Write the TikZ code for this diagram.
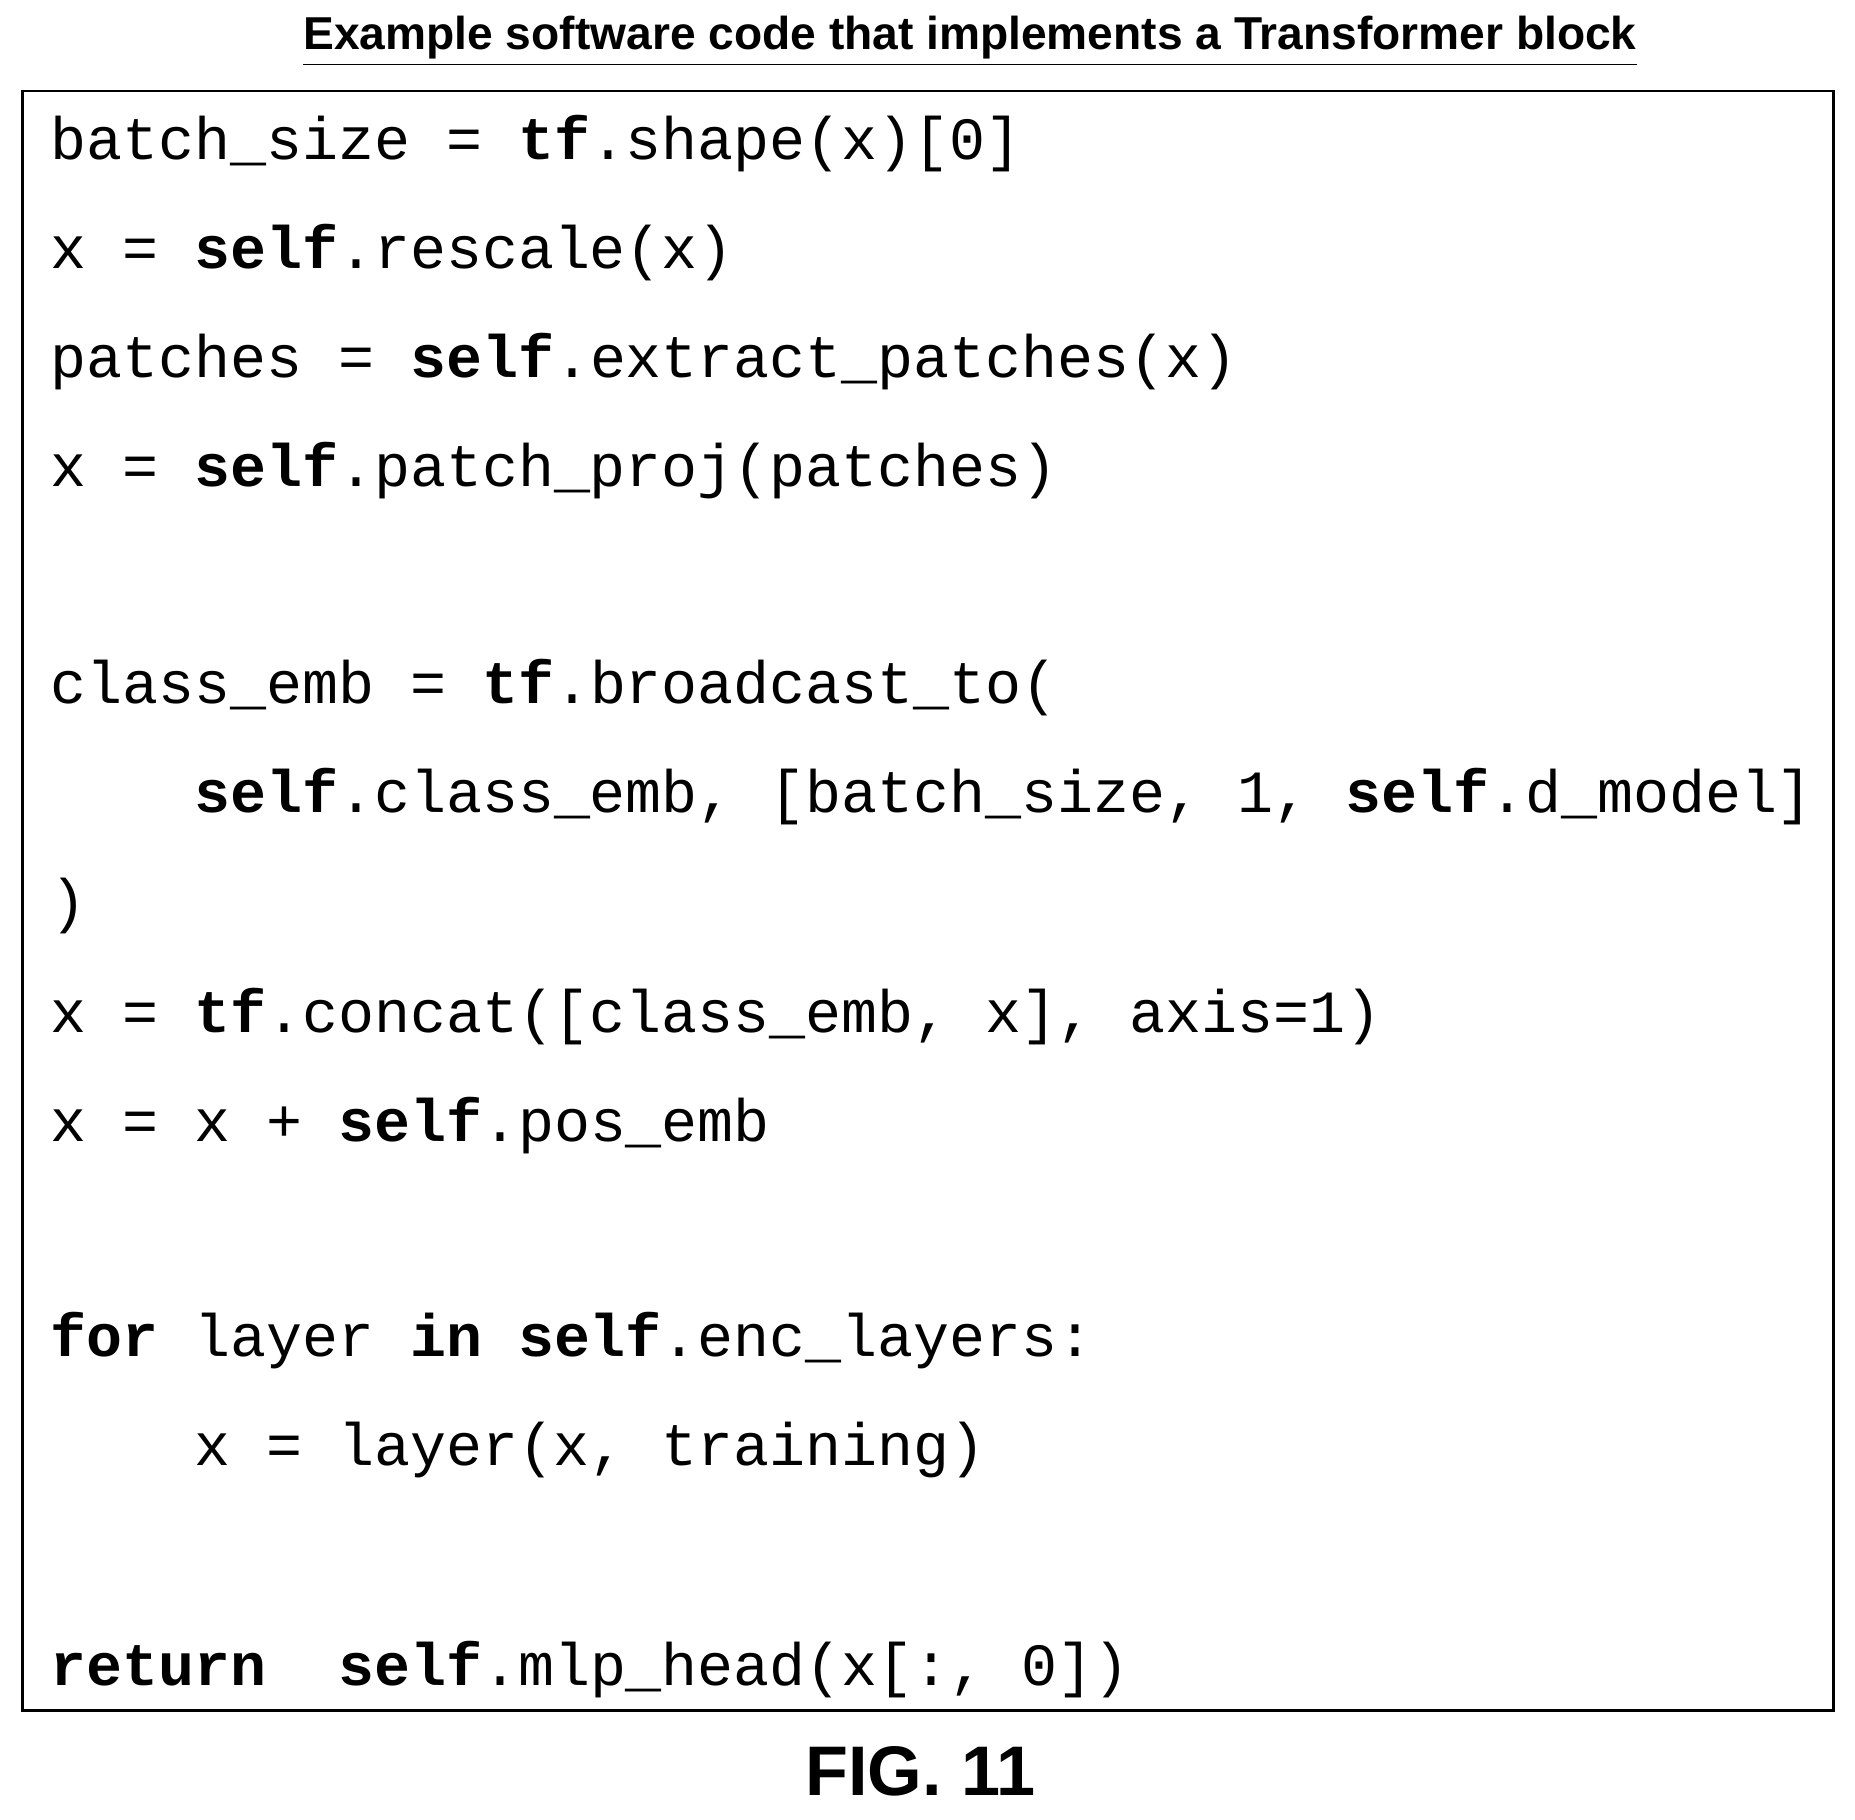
\documentclass[tikz,border=0pt]{standalone}
\usepackage{fontspec}
\setmainfont{Liberation Sans}
\setmonofont{Liberation Mono}
\begin{document}
\begin{tikzpicture}[x=0.3pt,y=-0.3pt,
  code/.style={anchor=base west,inner sep=0pt,font=\ttfamily\fontsize{15.2}{16}\selectfont},
  every node/.style={inner sep=0pt}]
\useasboundingbox (0,0) rectangle (1568,1538);
\node[font=\bfseries\fontsize{11.7}{13}\selectfont] (title) at (820,35) {\underline{Example software code that implements a Transformer block}};
\draw[line width=0.7pt] (19,77) rectangle (1550,1446);
\node[code] (l1) at (42,135) {batch\_size = \textbf{tf}.shape(x)[0]};
\node[code] (l2) at (42,227) {x = \textbf{self}.rescale(x)};
\node[code] (l3) at (42,319) {patches = \textbf{self}.extract\_patches(x)};
\node[code] (l4) at (42,411) {x = \textbf{self}.patch\_proj(patches)};
\node[code] (l5) at (42,595) {class\_emb = \textbf{tf}.broadcast\_to(};
\node[code] (l6) at (42,687) {\ \ \ \ \textbf{self}.class\_emb, [batch\_size, 1, \textbf{self}.d\_model]};
\node[code] (l7) at (42,779) {)};
\node[code] (l8) at (42,873) {x = \textbf{tf}.concat([class\_emb, x], axis=1)};
\node[code] (l9) at (42,965) {x = x + \textbf{self}.pos\_emb};
\node[code] (l10) at (42,1147) {\textbf{for} layer \textbf{in} \textbf{self}.enc\_layers:};
\node[code] (l11) at (42,1239) {\ \ \ \ x = layer(x, training)};
\node[code] (l12) at (42,1425) {\textbf{return}\ \ \textbf{self}.mlp\_head(x[:, 0])};
\node[font=\bfseries\fontsize{17.8}{19}\selectfont] (fig) at (778,1497) {FIG. 11};
\end{tikzpicture}
\end{document}
